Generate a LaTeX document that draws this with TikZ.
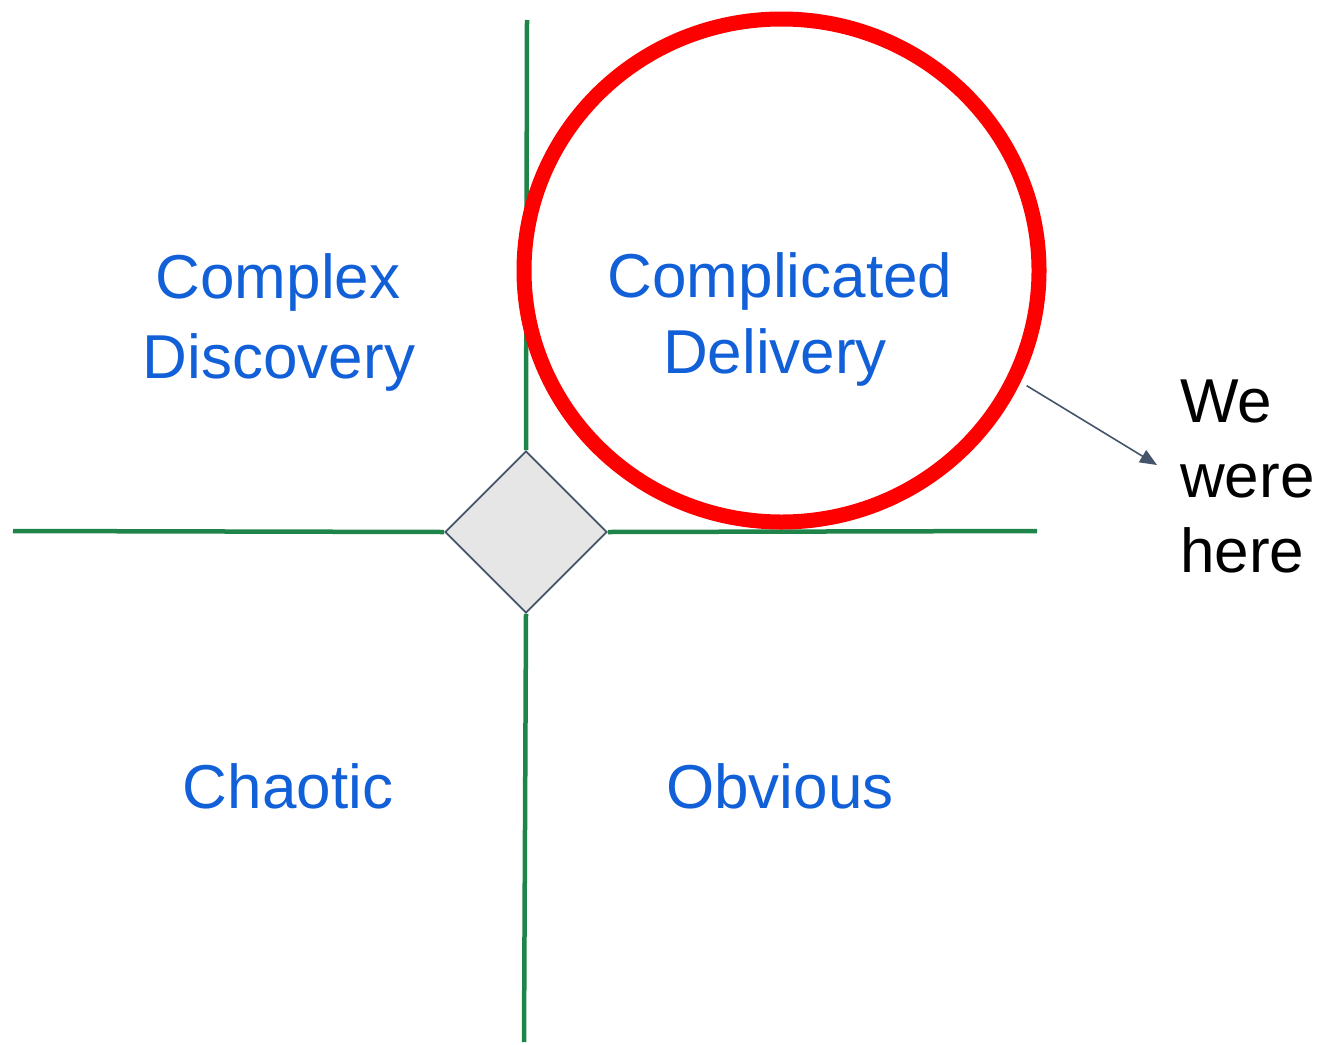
\documentclass[tikz,border=0pt]{standalone}
\usepackage{fontspec}
\setmainfont{Liberation Sans}
\usetikzlibrary{arrows.meta,shapes.geometric}
\definecolor{axisgreen}{RGB}{30,132,73}
\definecolor{lblblue}{RGB}{18,96,216}
\definecolor{slate}{RGB}{68,84,106}
\definecolor{diafill}{RGB}{230,230,230}
\tikzset{
  greenaxis/.style={draw=axisgreen, line width=4.5pt},
  quadlabel/.style={text=lblblue, font=\fontsize{62}{80}\selectfont, anchor=base, inner sep=0pt},
  notetext/.style={text=black, font=\fontsize{62}{75}\selectfont, anchor=base west, inner sep=0pt},
  pointerline/.style={draw=slate, line width=1.6pt, -{Triangle[length=17pt,width=14pt]}}
}
\begin{document}
\begin{tikzpicture}[x=1pt,y=-1pt]
\useasboundingbox (0,0) rectangle (1329,1044);
% diamond
\node (dia) [draw=slate, fill=diafill, line width=1.8pt, diamond, aspect=1, minimum width=162pt, minimum height=162pt, inner sep=0pt] at (526,532) {};
% axes
\coordinate (top) at (527,20);
\coordinate (bot) at (524,1042);
\coordinate (lft) at (13,531);
\coordinate (rgt) at (1037,531);
\draw[greenaxis] (top) -- (dia.north);
\draw[greenaxis] (dia.south) -- (bot);
\draw[greenaxis] (lft) -- (dia.west);
\draw[greenaxis] (dia.east) -- (rgt);
% red circle
\node (ring) [draw=red, line width=15pt, ellipse, minimum width=515pt, minimum height=503pt, inner sep=0pt] at (781.5,270.5) {};
% labels
\node (cx1) [quadlabel] at (278,298) {Complex};
\node (cx2) [quadlabel] at (279,378) {Discovery};
\node (cd1) [quadlabel] at (780,297) {Complicated};
\node (cd2) [quadlabel] at (775,373) {Delivery};
\node (ch) [quadlabel] at (288,808) {Chaotic};
\node (ob) [quadlabel] at (780,808) {Obvious};
\node (w1) [notetext] at (1180,422) {We};
\node (w2) [notetext] at (1180,497) {were};
\node (w3) [notetext] at (1180,572) {here};
\coordinate (tip) at (1157,465);
\draw[pointerline, shorten <=7pt] (ring.-25) -- (tip);
\end{tikzpicture}
\end{document}
